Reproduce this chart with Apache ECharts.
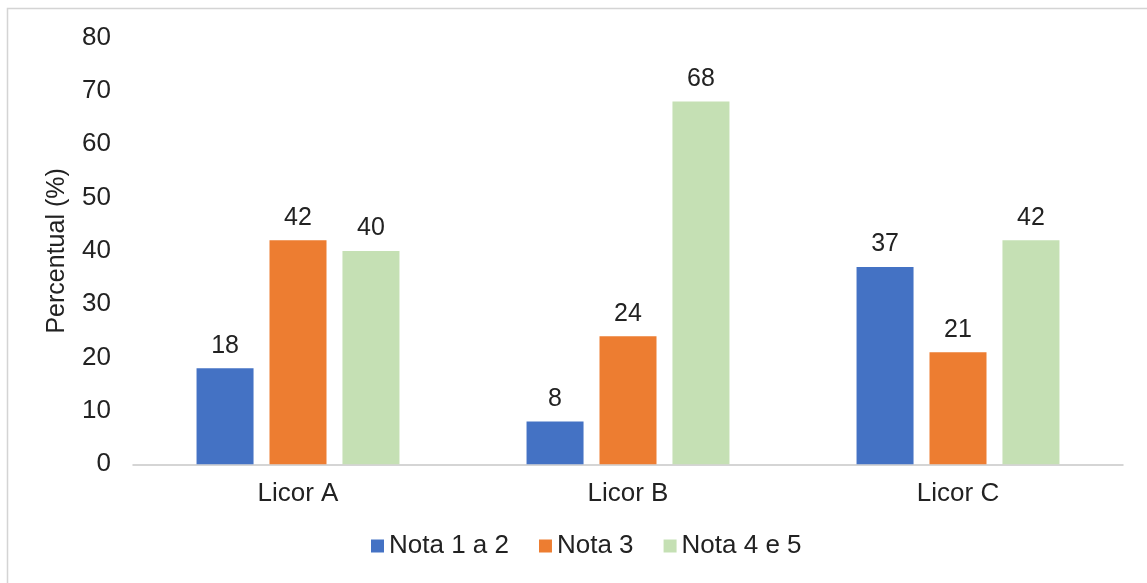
<!DOCTYPE html>
<html>
<head>
<meta charset="utf-8">
<script src="https://cdn.jsdelivr.net/npm/echarts@6/dist/echarts.min.js"></script>
<style>
  html, body { margin: 0; padding: 0; background: #fff; }
  #chart { width: 1147px; height: 583px; }
</style>
</head>
<body>
<div id="chart"></div>
<script>
const categories = ['Licor A', 'Licor B', 'Licor C'];
const seriesNames = ['Nota 1 a 2', 'Nota 3', 'Nota 4 e 5'];
const nota12 = [18, 8, 37];
const nota3 = [42, 24, 21];
const nota45 = [40, 68, 42];
const yTicks = [0, 10, 20, 30, 40, 50, 60, 70, 80];
const colors = ['#4472C4', '#ED7D31', '#C5E0B4'];

const FONT = "'Liberation Sans', Arial, sans-serif";
const TXT = '#222222';

const chart = echarts.init(document.getElementById('chart'), null, { renderer: 'canvas' });

function mkSeries(name, data, color) {
  return {
    name: name,
    type: 'bar',
    data: data,
    barWidth: 57,
    barGap: '28%',
    itemStyle: { color: color },
    label: {
      show: true,
      position: 'top',
      distance: 10,
      color: TXT,
      fontSize: 25,
      fontFamily: FONT
    }
  };
}

chart.setOption({
  animation: false,
  backgroundColor: '#fff',
  graphic: [{
    type: 'rect',
    shape: { x: 7.5, y: 8.5, width: 1300, height: 700 },
    style: { fill: 'none', stroke: '#d4d4d4', lineWidth: 1.5 },
    silent: true
  }],
  grid: { left: 133, right: 24, top: 37.5, bottom: 118.7 },
  legend: {
    left: 366,
    top: 528,
    itemWidth: 13,
    itemHeight: 13,
    itemGap: 30,
    icon: 'rect',
    data: seriesNames,
    textStyle: { color: TXT, fontSize: 26, fontFamily: FONT }
  },
  xAxis: {
    type: 'category',
    data: categories,
    axisLine: { show: true, lineStyle: { color: '#c8c8c8', width: 1.5 } },
    axisTick: { show: false },
    axisLabel: { color: TXT, fontSize: 26, fontFamily: FONT, margin: 17 }
  },
  yAxis: {
    type: 'value',
    min: yTicks[0],
    max: yTicks[yTicks.length - 1],
    interval: 10,
    name: 'Percentual (%)',
    nameLocation: 'middle',
    nameGap: 63,
    nameTextStyle: { color: TXT, fontSize: 25, fontFamily: FONT },
    axisLine: { show: false },
    axisTick: { show: false },
    splitLine: { show: false },
    axisLabel: { color: TXT, fontSize: 26, fontFamily: FONT, margin: 22 }
  },
  series: [
    mkSeries(seriesNames[0], nota12, colors[0]),
    mkSeries(seriesNames[1], nota3, colors[1]),
    mkSeries(seriesNames[2], nota45, colors[2])
  ]
});
</script>
</body>
</html>
